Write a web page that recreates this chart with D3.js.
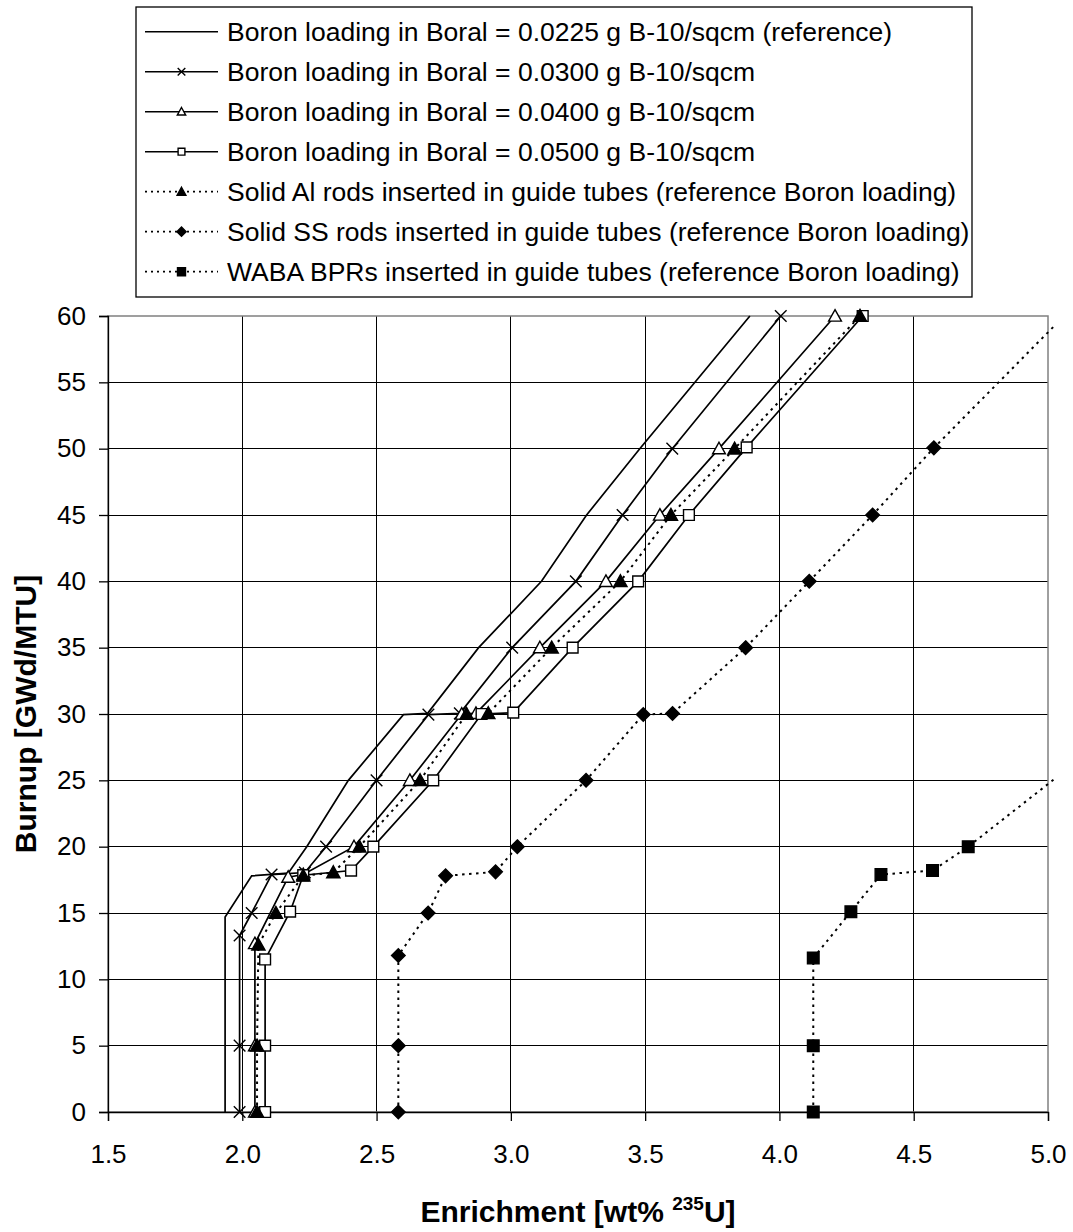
<!DOCTYPE html>
<html><head><meta charset="utf-8">
<script src="https://cdn.jsdelivr.net/npm/d3@7"></script>
<style>body{margin:0;background:#fff}svg{display:block}</style>
</head><body>
<svg id="chart" width="1073" height="1232"></svg>
<script>
// ---- data ----
const xTicks = [1.5, 2.0, 2.5, 3.0, 3.5, 4.0, 4.5, 5.0];
const yTicks = [0, 5, 10, 15, 20, 25, 30, 35, 40, 45, 50, 55, 60];

const legendLabels = [
  "Boron loading in Boral = 0.0225 g B-10/sqcm (reference)",
  "Boron loading in Boral = 0.0300 g B-10/sqcm",
  "Boron loading in Boral = 0.0400 g B-10/sqcm",
  "Boron loading in Boral = 0.0500 g B-10/sqcm",
  "Solid Al rods inserted in guide tubes (reference Boron loading)",
  "Solid SS rods inserted in guide tubes (reference Boron loading)",
  "WABA BPRs inserted in guide tubes (reference Boron loading)"
];

// [enrichment wt% U-235, burnup GWd/MTU]
const boron0225 = [[1.936,0],[1.936,14.7],[2.035,17.8],[2.171,18.0],[2.24,20],[2.395,25],[2.6,29.95],[2.69,30.05],[2.88,35],[3.114,40],[3.282,45],[3.48,50],[3.89,60]];
const boron0300 = [[1.99,0],[1.99,5],[1.99,13.3],[2.035,15],[2.109,17.9],[2.233,18.05],[2.312,20],[2.5,25],[2.693,29.95],[2.81,30.05],[3.005,35],[3.242,40],[3.416,45],[3.601,50],[4.005,60]];
const boron0400 = [[2.047,0],[2.047,5],[2.047,12.7],[2.171,17.7],[2.227,17.9],[2.416,20],[2.624,25],[2.817,30],[2.87,30.05],[3.108,35],[3.354,40],[3.555,45],[3.775,50],[4.207,60]];
const boron0500 = [[2.085,0],[2.085,5],[2.085,11.5],[2.178,15.1],[2.227,17.85],[2.405,18.2],[2.488,20],[2.711,25],[2.891,30],[3.009,30.1],[3.23,35],[3.474,40],[3.663,45],[3.878,50.1],[4.31,60]];
const alRods   = [[2.055,0],[2.055,5],[2.06,12.6],[2.125,15],[2.227,17.8],[2.339,18.06],[2.436,20],[2.662,25],[2.835,30],[2.916,30.05],[3.152,35],[3.408,40],[3.596,45],[3.833,50],[4.3,60]];
const ssRods   = [[2.581,0],[2.581,5],[2.581,11.8],[2.692,15],[2.757,17.8],[2.943,18.1],[3.024,20],[3.28,25],[3.493,29.96],[3.602,30.04],[3.874,35],[4.111,40],[4.347,45],[4.575,50.06],[5.06,60]];
const wabaBPRs = [[4.126,0],[4.126,5],[4.126,11.6],[4.266,15.1],[4.378,17.9],[4.57,18.2],[4.703,20],[5.03,25.2]];

const seriesData = [boron0225, boron0300, boron0400, boron0500, alRods, ssRods, wabaBPRs];
const seriesMarker = ["none", "x", "triOpen", "sqOpen", "triFill", "diaFill", "sqFill"];
const seriesDash = [false, false, false, false, true, true, true];

// ---- layout ----
const svg = d3.select("#chart");
const W = 1073, H = 1232;
const x = d3.scaleLinear().domain([1.5, 5.0]).range([108, 1048]);
const y = d3.scaleLinear().domain([0, 60]).range([1112, 316]);
const FONT = "Liberation Sans, Arial, Helvetica, sans-serif";

svg.append("rect").attr("width", W).attr("height", H).attr("fill", "#fff");

// gridlines
const grid = svg.append("g").attr("stroke", "#000").attr("stroke-width", 1).attr("shape-rendering", "crispEdges");
grid.selectAll(".vg").data(xTicks.slice(1, -1)).join("line")
  .attr("x1", d => x(d)).attr("x2", d => x(d)).attr("y1", y(0)).attr("y2", y(60));
grid.selectAll(".hg").data(yTicks.slice(1, -1)).join("line")
  .attr("x1", x(1.5)).attr("x2", x(5.0)).attr("y1", d => y(d)).attr("y2", d => y(d));

// plot border (gray)
svg.append("rect").attr("x", x(1.5)).attr("y", y(60)).attr("width", x(5) - x(1.5)).attr("height", y(0) - y(60))
  .attr("fill", "none").attr("stroke", "#808080").attr("stroke-width", 1.5);

// axes
const yAxis = svg.append("g").attr("transform", `translate(${x(1.5)},0)`)
  .call(d3.axisLeft(y).tickValues(yTicks).tickSize(9).tickPadding(13).tickFormat(d3.format("d")));
const xAxis = svg.append("g").attr("transform", `translate(0,${y(0)})`)
  .call(d3.axisBottom(x).tickValues(xTicks).tickSize(9).tickPadding(24).tickFormat(d3.format(".1f")));
[yAxis, xAxis].forEach(a => {
  a.select(".domain").attr("stroke", "#000").attr("stroke-width", 1.3);
  a.selectAll(".tick line").attr("stroke", "#000").attr("stroke-width", 1.3);
  a.selectAll(".tick text").attr("font-family", FONT).attr("font-size", 26).attr("fill", "#000");
});

// axis titles
svg.append("text").attr("transform", `translate(36,${(y(0) + y(60)) / 2}) rotate(-90)`)
  .attr("text-anchor", "middle").attr("font-family", FONT).attr("font-weight", "bold").attr("font-size", 30)
  .text("Burnup [GWd/MTU]");
const xt = svg.append("text").attr("x", (x(1.5) + x(5)) / 2).attr("y", 1222)
  .attr("text-anchor", "middle").attr("font-family", FONT).attr("font-weight", "bold").attr("font-size", 30);
xt.append("tspan").text("Enrichment [wt% ");
xt.append("tspan").attr("font-size", 19).attr("dy", -12).text("235");
xt.append("tspan").attr("dy", 12).text("U]");

// markers
function markerPath(type, s) {
  switch (type) {
    case "x": return `M${-s},${-s}L${s},${s}M${-s},${s}L${s},${-s}`;
    case "triOpen": case "triFill": return `M0,${-s}L${s},${s * 0.8}L${-s},${s * 0.8}Z`;
    case "sqOpen": case "sqFill": return `M${-s},${-s}H${s}V${s}H${-s}Z`;
    case "diaFill": return `M0,${-s}L${s},0L0,${s}L${-s},0Z`;
  }
  return "";
}
const plotSize = { x: 5.8, triOpen: 6.4, triFill: 6.6, sqOpen: 5.4, diaFill: 6.8, sqFill: 5.8 };
const legSize = { x: 3.8, triOpen: 4.2, triFill: 4.4, sqOpen: 3.4, diaFill: 4.6, sqFill: 4 };
function styleMarker(sel, type) {
  const filled = type.endsWith("Fill");
  sel.attr("fill", filled ? "#000" : (type === "x" ? "none" : "#fff"))
     .attr("stroke", "#000").attr("stroke-width", 1.4);
}

// clip for lines that leave the plot (Excel-like slight overflow)
svg.append("clipPath").attr("id", "plotclip").append("rect")
  .attr("x", x(1.5) - 2).attr("y", y(60) - 8).attr("width", 1055 - x(1.5) + 2).attr("height", y(0) - y(60) + 16);

const line = d3.line().x(d => x(d[0])).y(d => y(d[1]));
const plot = svg.append("g").attr("clip-path", "url(#plotclip)");
seriesData.forEach((data, i) => {
  plot.append("path").attr("d", line(data)).attr("fill", "none").attr("stroke", "#000")
    .attr("stroke-width", seriesDash[i] ? 2 : 1.7)
    .attr("stroke-dasharray", seriesDash[i] ? "2.5,4.5" : null);
});
seriesData.forEach((data, i) => {
  const type = seriesMarker[i];
  if (type === "none") return;
  const pts = data.filter(d => d[0] <= 5.0);
  plot.selectAll(null).data(pts).join("path")
    .attr("transform", d => `translate(${x(d[0])},${y(d[1])})`)
    .attr("d", markerPath(type, plotSize[type]))
    .call(styleMarker, type);
});

// legend
const lg = svg.append("g");
lg.append("rect").attr("x", 136).attr("y", 7).attr("width", 836).attr("height", 290)
  .attr("fill", "#fff").attr("stroke", "#000").attr("stroke-width", 1.3);
legendLabels.forEach((lab, i) => {
  const cy = 31.7 + 40 * i;
  lg.append("line").attr("x1", 145).attr("x2", 218).attr("y1", cy).attr("y2", cy)
    .attr("stroke", "#000").attr("stroke-width", seriesDash[i] ? 1.8 : 1.6)
    .attr("stroke-dasharray", seriesDash[i] ? "2,4" : null);
  const type = seriesMarker[i];
  if (type !== "none") {
    lg.append("path").attr("transform", `translate(181.5,${cy})`)
      .attr("d", markerPath(type, legSize[type])).call(styleMarker, type);
  }
  lg.append("text").attr("x", 227).attr("y", cy).attr("dy", "0.35em")
    .attr("font-family", FONT).attr("font-size", 26.5).attr("fill", "#000").text(lab);
});
</script>
</body></html>
